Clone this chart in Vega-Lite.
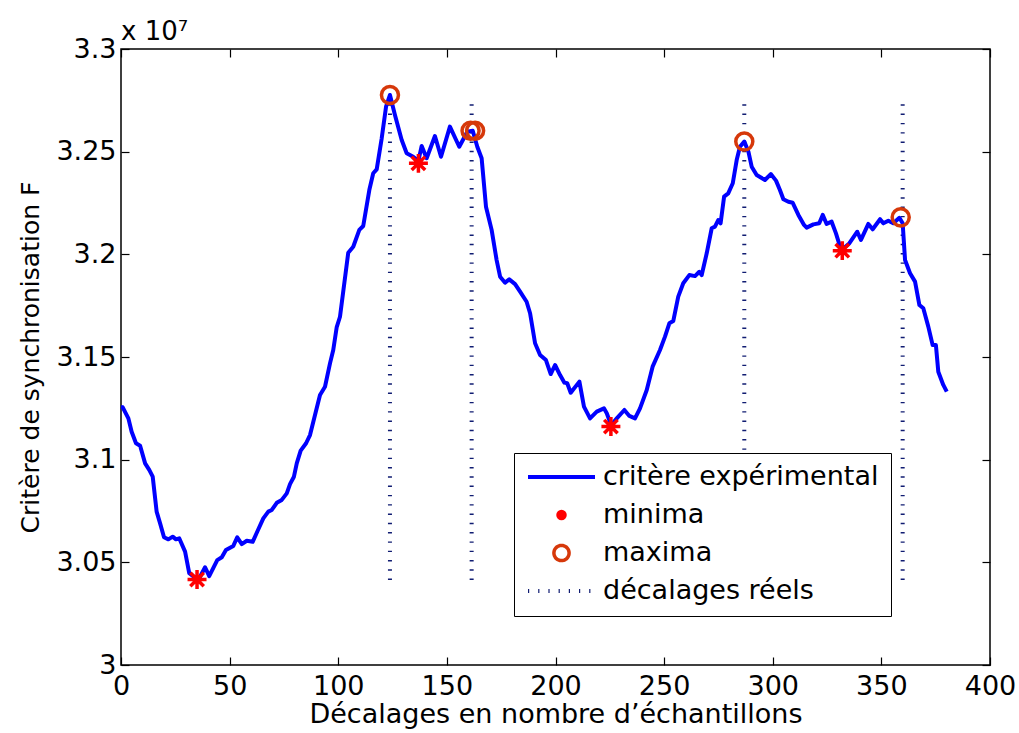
{
  "$schema": "https://vega.github.io/schema/vega-lite/v6.json",
  "width": 869,
  "height": 616,
  "autosize": {"type": "none"},
  "padding": {"left": 121, "top": 49, "right": 29, "bottom": 68},
  "background": "white",
  "config": {
    "font": "DejaVu Sans",
    "view": {"stroke": "black", "strokeWidth": 1.5},
    "axis": {"grid": false, "domain": false, "tickColor": "black", "tickWidth": 1.2, "labelColor": "black", "titleColor": "black", "labelFont": "DejaVu Sans", "titleFont": "DejaVu Sans", "titleFontWeight": "normal", "labelFlush": false}
  },
  "title": {"text": "x 10⁷", "anchor": "start", "frame": "group", "font": "DejaVu Sans", "fontSize": 26, "fontWeight": "normal", "color": "black", "offset": 6, "dy": 16},
  "datasets": {
    "curve": [
      {"x": 0, "F": 3.1256}, {"x": 0.8, "F": 3.1255}, {"x": 3.4, "F": 3.1201}, {"x": 4.9, "F": 3.1136}, {"x": 6.9, "F": 3.108}, {"x": 8.8, "F": 3.1068}, {"x": 11.1, "F": 3.0982}, {"x": 13.0, "F": 3.095}, {"x": 14.6, "F": 3.0917}, {"x": 16.4, "F": 3.0747}, {"x": 18.0, "F": 3.069}, {"x": 19.8, "F": 3.0622}, {"x": 21.8, "F": 3.0612}, {"x": 23.8, "F": 3.0625}, {"x": 25.3, "F": 3.0612}, {"x": 26.8, "F": 3.0617}, {"x": 29.5, "F": 3.0552}, {"x": 31.4, "F": 3.0447}, {"x": 35.0, "F": 3.0418}, {"x": 36.4, "F": 3.043}, {"x": 38.7, "F": 3.0476}, {"x": 40.6, "F": 3.0433}, {"x": 44.3, "F": 3.0511}, {"x": 46.4, "F": 3.0525}, {"x": 48.3, "F": 3.056}, {"x": 51.7, "F": 3.058}, {"x": 53.5, "F": 3.0622}, {"x": 55.6, "F": 3.0589}, {"x": 57.9, "F": 3.0605}, {"x": 60.6, "F": 3.06}, {"x": 62.7, "F": 3.0649}, {"x": 65.5, "F": 3.0714}, {"x": 67.8, "F": 3.0747}, {"x": 69.4, "F": 3.0755}, {"x": 71.7, "F": 3.079}, {"x": 74.0, "F": 3.0804}, {"x": 76.3, "F": 3.0836}, {"x": 77.8, "F": 3.0881}, {"x": 79.6, "F": 3.0917}, {"x": 80.9, "F": 3.0982}, {"x": 82.7, "F": 3.1044}, {"x": 85.2, "F": 3.108}, {"x": 87.0, "F": 3.112}, {"x": 89.3, "F": 3.1218}, {"x": 91.6, "F": 3.1315}, {"x": 93.9, "F": 3.1355}, {"x": 96.2, "F": 3.1469}, {"x": 97.7, "F": 3.1534}, {"x": 99.3, "F": 3.1646}, {"x": 100.8, "F": 3.1696}, {"x": 104.6, "F": 3.2008}, {"x": 106.9, "F": 3.2037}, {"x": 109.7, "F": 3.2119}, {"x": 111.5, "F": 3.2138}, {"x": 114.3, "F": 3.2313}, {"x": 116.1, "F": 3.2395}, {"x": 117.7, "F": 3.2414}, {"x": 120.0, "F": 3.2565}, {"x": 122.0, "F": 3.2719}, {"x": 123.8, "F": 3.2776}, {"x": 126.1, "F": 3.2679}, {"x": 129.2, "F": 3.2557}, {"x": 131.5, "F": 3.2492}, {"x": 134.5, "F": 3.2475}, {"x": 136.9, "F": 3.2455}, {"x": 138.4, "F": 3.2528}, {"x": 140.7, "F": 3.2468}, {"x": 144.5, "F": 3.2576}, {"x": 147.3, "F": 3.2475}, {"x": 151.4, "F": 3.2622}, {"x": 155.7, "F": 3.2524}, {"x": 159.4, "F": 3.2597}, {"x": 161.9, "F": 3.2602}, {"x": 164.0, "F": 3.2524}, {"x": 166.0, "F": 3.2468}, {"x": 168.0, "F": 3.2232}, {"x": 170.6, "F": 3.2119}, {"x": 172.9, "F": 3.1972}, {"x": 174.5, "F": 3.1891}, {"x": 176.8, "F": 3.1862}, {"x": 178.7, "F": 3.1878}, {"x": 181.4, "F": 3.1855}, {"x": 183.7, "F": 3.1818}, {"x": 186.7, "F": 3.1769}, {"x": 188.3, "F": 3.1713}, {"x": 190.6, "F": 3.1567}, {"x": 192.9, "F": 3.151}, {"x": 195.6, "F": 3.1485}, {"x": 197.8, "F": 3.1417}, {"x": 199.8, "F": 3.1461}, {"x": 202.1, "F": 3.1412}, {"x": 204.1, "F": 3.1375}, {"x": 205.4, "F": 3.1372}, {"x": 207.0, "F": 3.1326}, {"x": 211.0, "F": 3.138}, {"x": 213.1, "F": 3.1258}, {"x": 215.9, "F": 3.1201}, {"x": 219.0, "F": 3.1234}, {"x": 222.3, "F": 3.125}, {"x": 223.6, "F": 3.1226}, {"x": 225.6, "F": 3.1168}, {"x": 228.2, "F": 3.1201}, {"x": 231.7, "F": 3.1242}, {"x": 234.0, "F": 3.1213}, {"x": 236.6, "F": 3.1201}, {"x": 238.9, "F": 3.125}, {"x": 242.0, "F": 3.1339}, {"x": 244.7, "F": 3.1453}, {"x": 248.1, "F": 3.1534}, {"x": 250.4, "F": 3.1599}, {"x": 252.4, "F": 3.1664}, {"x": 254.2, "F": 3.1675}, {"x": 256.5, "F": 3.1794}, {"x": 258.8, "F": 3.1859}, {"x": 261.6, "F": 3.1899}, {"x": 264.2, "F": 3.1894}, {"x": 266.2, "F": 3.1915}, {"x": 267.3, "F": 3.1899}, {"x": 269.6, "F": 3.2005}, {"x": 271.9, "F": 3.2127}, {"x": 273.4, "F": 3.2135}, {"x": 274.9, "F": 3.2167}, {"x": 276.0, "F": 3.2151}, {"x": 277.6, "F": 3.2281}, {"x": 279.5, "F": 3.2297}, {"x": 281.6, "F": 3.2346}, {"x": 283.4, "F": 3.2459}, {"x": 284.9, "F": 3.2524}, {"x": 286.9, "F": 3.2549}, {"x": 288.8, "F": 3.25}, {"x": 290.3, "F": 3.2427}, {"x": 292.6, "F": 3.2386}, {"x": 296.4, "F": 3.2362}, {"x": 299.1, "F": 3.2391}, {"x": 301.5, "F": 3.2359}, {"x": 303.3, "F": 3.2313}, {"x": 304.9, "F": 3.2268}, {"x": 307.2, "F": 3.2256}, {"x": 309.2, "F": 3.2251}, {"x": 311.8, "F": 3.2192}, {"x": 314.4, "F": 3.2143}, {"x": 315.6, "F": 3.213}, {"x": 318.7, "F": 3.2146}, {"x": 321.4, "F": 3.2151}, {"x": 323.0, "F": 3.2192}, {"x": 324.8, "F": 3.2148}, {"x": 327.1, "F": 3.2159}, {"x": 329.1, "F": 3.2102}, {"x": 331.0, "F": 3.2037}, {"x": 332.0, "F": 3.2024}, {"x": 335.3, "F": 3.2054}, {"x": 338.9, "F": 3.211}, {"x": 340.6, "F": 3.207}, {"x": 344.0, "F": 3.2148}, {"x": 346.0, "F": 3.2122}, {"x": 349.4, "F": 3.2171}, {"x": 350.9, "F": 3.2151}, {"x": 353.2, "F": 3.2164}, {"x": 355.5, "F": 3.2151}, {"x": 358.3, "F": 3.2178}, {"x": 359.8, "F": 3.2151}, {"x": 360.9, "F": 3.1972}, {"x": 363.2, "F": 3.1908}, {"x": 365.5, "F": 3.1867}, {"x": 367.5, "F": 3.1753}, {"x": 369.3, "F": 3.1737}, {"x": 371.6, "F": 3.1648}, {"x": 373.6, "F": 3.1558}, {"x": 375.1, "F": 3.1558}, {"x": 376.2, "F": 3.1428}, {"x": 378.5, "F": 3.1364}, {"x": 380.1, "F": 3.1331}
    ],
    "minima": [
      {"x": 35.0, "F": 3.0416}, {"x": 136.9, "F": 3.2443}, {"x": 225.5, "F": 3.1161}, {"x": 332.0, "F": 3.2018}
    ],
    "maxima": [
      {"x": 123.8, "F": 3.2776}, {"x": 160.9, "F": 3.2602}, {"x": 163.0, "F": 3.2602}, {"x": 286.9, "F": 3.2549}, {"x": 358.9, "F": 3.218}
    ],
    "decalages": [
      {"x": 123.8, "F": 3.0414, "F2": 3.2752}, {"x": 161.4, "F": 3.0414, "F2": 3.2752}, {"x": 286.9, "F": 3.0414, "F2": 3.2752}, {"x": 359.8, "F": 3.0414, "F2": 3.2752}
    ]
  },
  "layer": [
    {
      "data": {"name": "decalages"},
      "transform": [{"calculate": "'décalages réels'", "as": "s"}],
      "mark": {"type": "rule", "strokeWidth": 4, "strokeDash": [1.4, 7.9]},
      "encoding": {
        "x": {"field": "x", "type": "quantitative", "scale": {"domain": [0, 400], "nice": false, "zero": false},
              "axis": {"orient": "top", "labels": false, "title": null, "values": [0, 50, 100, 150, 200, 250, 300, 350, 400], "tickSize": -8}},
        "y": {"field": "F", "type": "quantitative", "scale": {"domain": [3.0, 3.3], "nice": false, "zero": false},
              "axis": {"orient": "right", "labels": false, "title": null, "values": [3.0, 3.05, 3.1, 3.15, 3.2, 3.25, 3.3], "tickSize": -8}},
        "y2": {"field": "F2"},
        "color": {"field": "s", "type": "nominal",
          "scale": {"domain": ["critère expérimental", "minima", "maxima", "décalages réels"], "range": ["#0000ff", "#ff0000", "#d6380a", "#101c72"]},
          "legend": {
            "title": null, "orient": "none", "legendX": 393, "legendY": 404,
            "strokeColor": "black", "fillColor": "white", "padding": 12, "cornerRadius": 0,
            "labelFont": "DejaVu Sans", "labelFontSize": 27, "labelColor": "black", "labelOffset": 28, "labelLimit": 400,
            "symbolSize": 4489, "clipHeight": 24, "rowPadding": 11, "symbolType": "stroke", "symbolOffset": 22,
            "encode": {
              "symbols": {
                "update": {
                  "shape": {"signal": "datum.value === 'minima' || datum.value === 'maxima' ? 'circle' : 'stroke'"},
                  "size": {"signal": "datum.value === 'minima' ? 110 : datum.value === 'maxima' ? 230 : 4489"},
                  "strokeWidth": {"signal": "datum.value === 'critère expérimental' ? 4 : datum.value === 'maxima' ? 3.5 : datum.value === 'décalages réels' ? 4 : 0"},
                  "fill": {"signal": "datum.value === 'minima' ? '#ff0000' : 'transparent'"},
                  "stroke": {"signal": "datum.value === 'critère expérimental' ? '#0000ff' : datum.value === 'maxima' ? '#d6380a' : datum.value === 'minima' ? '#ff0000' : '#101c72'"},
                  "strokeDash": {"signal": "datum.value === 'décalages réels' ? [1.2, 9] : [1, 0]"},
                  "opacity": {"value": 1}
                }
              }
            }
          }
        }
      }
    },
    {
      "data": {"name": "curve"},
      "transform": [{"calculate": "'critère expérimental'", "as": "s"}],
      "mark": {"type": "line", "strokeWidth": 4, "strokeJoin": "round"},
      "encoding": {
        "x": {"field": "x", "type": "quantitative",
              "axis": {"orient": "bottom", "values": [0, 50, 100, 150, 200, 250, 300, 350, 400], "tickSize": -8, "labelPadding": 16, "labelFontSize": 27, "title": "Décalages en nombre d’échantillons", "titleFontSize": 27, "titlePadding": 2}},
        "y": {"field": "F", "type": "quantitative",
              "axis": {"orient": "left", "values": [3.0, 3.05, 3.1, 3.15, 3.2, 3.25, 3.3], "format": ".2~f", "tickSize": -8, "labelPadding": 13, "labelFontSize": 27, "title": "Critère de synchronisation F", "titleFontSize": 25, "titlePadding": 12}},
        "color": {"field": "s", "type": "nominal"}
      }
    },
    {
      "data": {"name": "minima"},
      "transform": [{"calculate": "'minima'", "as": "s"}],
      "mark": {"type": "point", "filled": false, "size": 360, "strokeWidth": 3.5, "opacity": 1, "shape": "M-1,0L1,0M0,-1L0,1M-0.71,-0.71L0.71,0.71M-0.71,0.71L0.71,-0.71"},
      "encoding": {
        "x": {"field": "x", "type": "quantitative", "axis": null},
        "y": {"field": "F", "type": "quantitative", "axis": null},
        "color": {"field": "s", "type": "nominal"}
      }
    },
    {
      "data": {"name": "maxima"},
      "transform": [{"calculate": "'maxima'", "as": "s"}],
      "mark": {"type": "point", "filled": false, "size": 290, "strokeWidth": 3.5, "opacity": 1, "shape": "circle"},
      "encoding": {
        "x": {"field": "x", "type": "quantitative", "axis": null},
        "y": {"field": "F", "type": "quantitative", "axis": null},
        "color": {"field": "s", "type": "nominal"}
      }
    }
  ]
}
